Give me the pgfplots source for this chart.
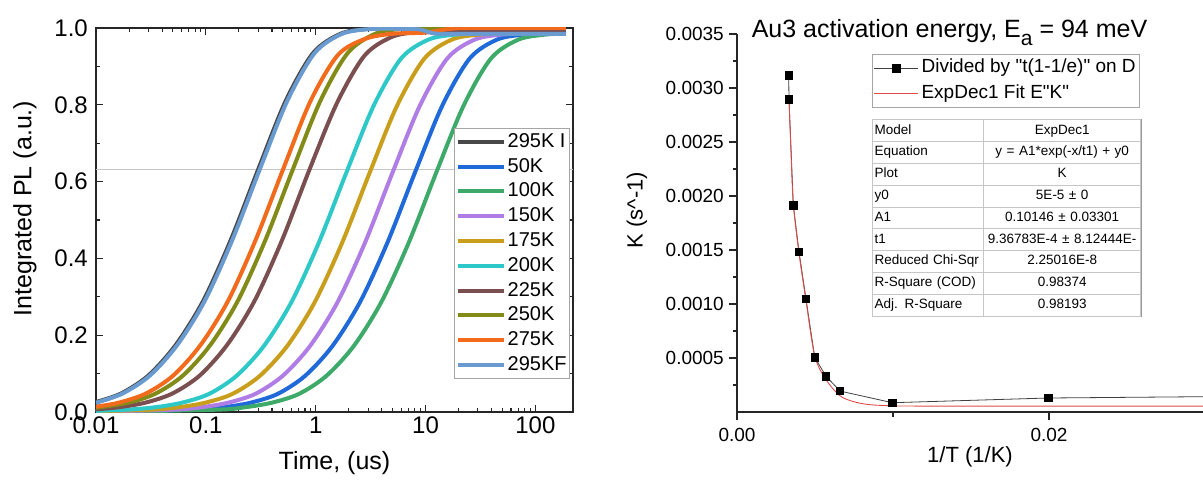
\documentclass[border=0pt]{standalone}
\usepackage{pgfplots}
\pgfplotsset{compat=1.18}
\usepackage{fontspec}
\setmainfont{Liberation Sans}[Ligatures=TeXOff]
\usetikzlibrary{matrix}
\definecolor{cGray}{HTML}{484848}
\definecolor{cBlue}{HTML}{1F6AD8}
\definecolor{cGreen}{HTML}{3DAA6A}
\definecolor{cPurple}{HTML}{B07CE6}
\definecolor{cGold}{HTML}{C99E1C}
\definecolor{cCyan}{HTML}{2EC8C8}
\definecolor{cBrown}{HTML}{7B4F50}
\definecolor{cOlive}{HTML}{828A18}
\definecolor{cOrange}{HTML}{F26B1D}
\definecolor{cSteel}{HTML}{6A9BD0}
\definecolor{cFit}{HTML}{E04C4C}
\definecolor{cAxis}{HTML}{262626}
\newcommand{\fs}[1]{\fontsize{#1}{#1}\selectfont}
\begin{document}
\begin{tikzpicture}
\useasboundingbox (0pt,0pt) rectangle (1203pt,483pt);
%================ LEFT =================
\begin{axis}[
  at={(96pt,71pt)}, anchor=south west, scale only axis,
  width=477pt, height=384pt,
  xmode=log, xmin=0.01, xmax=220, ymin=0, ymax=1,
  xtick={0.01,0.1,1,10,100}, xticklabels={0.01,0.1,1,10,100},
  ytick={0,0.2,0.4,0.6,0.8,1.0}, yticklabels={0.0,0.2,0.4,0.6,0.8,1.0},
  minor ytick={0.1,0.3,0.5,0.7,0.9},
  tick align=inside, tick pos=both,
  major tick length=7pt, minor tick length=4pt,
  every tick/.style={cAxis, line width=1.1pt},
  axis line style={cAxis, line width=1.3pt},
  ticklabel style={font=\fs{24}},
  xticklabel style={inner sep=2pt, yshift=-3pt},
  yticklabel style={inner sep=2pt, xshift=-6pt},
  xlabel={Time, (us)}, ylabel={Integrated PL (a.u.)},
  label style={font=\fs{25}},
  xlabel style={at={(axis description cs:0.5,-0.133)}, anchor=center},
  ylabel style={at={(axis description cs:-0.149,0.53)}, anchor=center},
  legend style={at={(axis description cs:0.9937,0.7396)}, anchor=north east,
    draw=gray!70, line width=0.8pt, font=\fs{20}, fill=white,
    row sep=0pt, inner sep=1pt,
    nodes={text height=14.5pt, text depth=3.5pt, inner ysep=3.4pt, inner xsep=2pt}},
  legend cell align=left,
  legend image code/.code={\draw[#1] (0pt,0pt) -- (46pt,0pt);},
  every axis plot/.append style={line width=4pt, smooth, tension=0.5},
]
\addplot[gray!45, line width=0.9pt, sharp plot, forget plot] coordinates {(0.01,0.632) (220,0.632)};
\addplot[cGray] coordinates {(0.01,0.026) (0.01687,0.048) (0.03,0.095) (0.05334,0.175) (0.09487,0.290) (0.1687,0.448) (0.3,0.632) (0.5334,0.810) (0.9487,0.935) (1.687,0.985) (3.0,0.998) (5.334,1.0) (20,1.0) (190,1.0)};
\addlegendentry{295K I}
\addplot[cBlue] coordinates {(0.01,0.001) (0.08,0.006) (0.1422,0.012) (0.253,0.024) (0.4498,0.047) (0.8,0.094) (1.422,0.172) (2.53,0.286) (4.498,0.441) (8,0.623) (14.22,0.798) (25.3,0.921) (44.98,0.970) (80,0.983) (142.2,0.985) (190,0.985)};
\addlegendentry{50K}
\addplot[cGreen] coordinates {(0.01,0.0) (0.125,0.006) (0.2223,0.012) (0.3953,0.024) (0.703,0.047) (1.25,0.094) (2.223,0.172) (3.953,0.286) (7.03,0.441) (12.5,0.623) (22.23,0.798) (39.53,0.921) (70.3,0.970) (125,0.983) (190,0.985)};
\addlegendentry{100K}
\addplot[cPurple] coordinates {(0.01,0.001) (0.05,0.006) (0.0889,0.012) (0.1581,0.024) (0.2812,0.047) (0.5,0.094) (0.889,0.172) (1.581,0.286) (2.812,0.441) (5,0.623) (8.89,0.798) (15.81,0.921) (28.12,0.970) (50,0.983) (88.9,0.985) (190,0.985)};
\addlegendentry{150K}
\addplot[cGold] coordinates {(0.01,0.002) (0.031,0.006) (0.05512,0.012) (0.098,0.024) (0.1743,0.047) (0.31,0.094) (0.5512,0.172) (0.98,0.286) (1.743,0.441) (3.1,0.623) (5.512,0.798) (9.8,0.921) (17.43,0.970) (31,0.983) (55.12,0.985) (190,0.985)};
\addlegendentry{175K}
\addplot[cCyan] coordinates {(0.01,0.003) (0.019,0.006) (0.03378,0.012) (0.06008,0.024) (0.1068,0.047) (0.19,0.094) (0.3378,0.172) (0.6008,0.286) (1.068,0.441) (1.9,0.623) (3.378,0.798) (6.008,0.921) (10.68,0.970) (19,0.983) (33.78,0.985) (190,0.985)};
\addlegendentry{200K}
\addplot[cBrown] coordinates {(0.01,0.007) (0.01565,0.012) (0.02783,0.024) (0.04948,0.048) (0.088,0.095) (0.1565,0.175) (0.2783,0.290) (0.4948,0.448) (0.88,0.632) (1.565,0.805) (2.783,0.928) (4.948,0.977) (8.8,0.99) (15.65,0.993) (190,0.993)};
\addlegendentry{225K}
\addplot[cOlive] coordinates {(0.01,0.011) (0.0196,0.024) (0.03486,0.048) (0.062,0.095) (0.1102,0.175) (0.196,0.290) (0.3486,0.448) (0.62,0.632) (1.102,0.810) (1.96,0.935) (3.486,0.985) (6.2,0.998) (11.02,1.0) (190,1.0)};
\addlegendentry{250K}
\addplot[cOrange] coordinates {(0.01,0.014) (0.01597,0.024) (0.0284,0.048) (0.0505,0.095) (0.0898,0.175) (0.1597,0.290) (0.284,0.448) (0.505,0.632) (0.898,0.810) (1.597,0.93) (2.84,0.972) (5.05,0.985) (10,0.988) (16,0.997) (25,1.0) (190,1.0)};
\addlegendentry{275K}
\addplot[cSteel] coordinates {(0.01,0.024) (0.01743,0.048) (0.031,0.095) (0.0551,0.175) (0.098,0.290) (0.1743,0.448) (0.31,0.632) (0.551,0.810) (0.98,0.935) (1.743,0.985) (3.1,0.997) (5.51,0.998) (8.5,0.997) (10.5,0.99) (13,0.985) (30,0.985) (190,0.985)};
\addlegendentry{295KF}
\end{axis}
%================ RIGHT =================
\begin{axis}[
  at={(737pt,71pt)}, anchor=south west, scale only axis,
  width=466pt, height=378pt,
  xmin=0, xmax=0.02987, ymin=0, ymax=0.0035,
  axis x line=bottom, axis y line=left,
  axis line style={-, cAxis, line width=1.3pt},
  xtick={0,0.02}, xticklabels={0.00,0.02}, minor xtick={0.01},
  ytick={0.0005,0.001,0.0015,0.002,0.0025,0.003,0.0035},
  yticklabels={0.0005,0.0010,0.0015,0.0020,0.0025,0.0030,0.0035},
  minor ytick={0.00025,0.00075,0.00125,0.00175,0.00225,0.00275,0.00325},
  scaled ticks=false,
  tick align=outside,
  major tick length=8pt, minor tick length=4.5pt,
  every tick/.style={cAxis, line width=1.1pt},
  ticklabel style={font=\fs{19}},
  xticklabel style={inner sep=2pt, yshift=-6pt},
  yticklabel style={inner sep=2pt, xshift=-3pt},
  xlabel={1/T (1/K)}, ylabel={K (s\textasciicircum-1)},
  label style={font=\fs{22}},
  xlabel style={at={(axis description cs:0.5,-0.119)}, anchor=center},
  ylabel style={at={(axis description cs:-0.2146,0.534)}, anchor=center},
  legend style={at={(axis description cs:0.865,0.947)}, anchor=north east,
    draw=gray!70, line width=0.8pt, font=\fs{19}, fill=white,
    row sep=0pt, inner sep=1pt,
    nodes={text height=14pt, text depth=4.5pt, inner ysep=3.5pt, inner xsep=3pt}},
  legend cell align=left,
  legend image code/.code={\draw[mark repeat=2,mark phase=2,#1] plot coordinates {(0pt,0pt) (22pt,0pt) (44pt,0pt)};},
]
\addplot[color=gray!50!black, line width=0.8pt, mark=square*, mark size=3.8pt, mark options={fill=black, draw=black}]
 coordinates {(0.003314,0.003118) (0.003333,0.002895) (0.003609,0.001914) (0.003974,0.001484) (0.004423,0.001046) (0.004981,0.000506) (0.005705,0.000331) (0.006603,0.000194) (0.009955,0.0000861) (0.019955,0.0001296) (0.0333,0.000146)};
\addlegendentry{Divided by "t(1-1/e)" on D}
\addplot[cFit, line width=0.9pt, smooth, tension=0.5]
 coordinates {(0.003333,0.002895) (0.00345,0.00245) (0.003609,0.00193) (0.003974,0.00147) (0.004423,0.00103) (0.004981,0.00052) (0.005705,0.00030) (0.0066,0.00015) (0.0075,0.000095) (0.0085,0.000068) (0.0099,0.000058) (0.012,0.000055) (0.02987,0.000055)};
\addlegendentry{ExpDec1 Fit E"K"}
\end{axis}
% title
\node[anchor=base] at (949.5pt,445pt) {\fs{25}Au3 activation energy, E\raisebox{-0.3em}{\fs{21}a} = 94 meV};
% fit table
\matrix[matrix of nodes, anchor=north west, inner sep=0pt, column sep=-0.6pt, row sep=-0.6pt,
  draw=gray!80, line width=0.8pt,
  nodes={draw=gray!45, line width=0.6pt, minimum height=21.8pt, inner xsep=2pt, inner ysep=0pt, font=\fs{13.5}, text height=10pt, text depth=3pt},
  column 1/.style={nodes={text width=107pt, align=left}},
  column 2/.style={nodes={text width=153pt, align=center}}]
  at (872pt,364pt) {
\mbox{Model} & \mbox{ExpDec1} \\
\mbox{Equation} & \mbox{y = A1*exp(-x/t1) + y0} \\
\mbox{Plot} & \mbox{K} \\
\mbox{y0} & \mbox{5E-5 ± 0} \\
\mbox{A1} & \mbox{0.10146 ± 0.03301} \\
\mbox{t1} & \mbox{9.36783E-4 ± 8.12444E-} \\
\mbox{Reduced Chi-Sqr} & \mbox{2.25016E-8} \\
\mbox{R-Square (COD)} & \mbox{0.98374} \\
\mbox{Adj. R-Square} & \mbox{0.98193} \\
};
\end{tikzpicture}
\end{document}
